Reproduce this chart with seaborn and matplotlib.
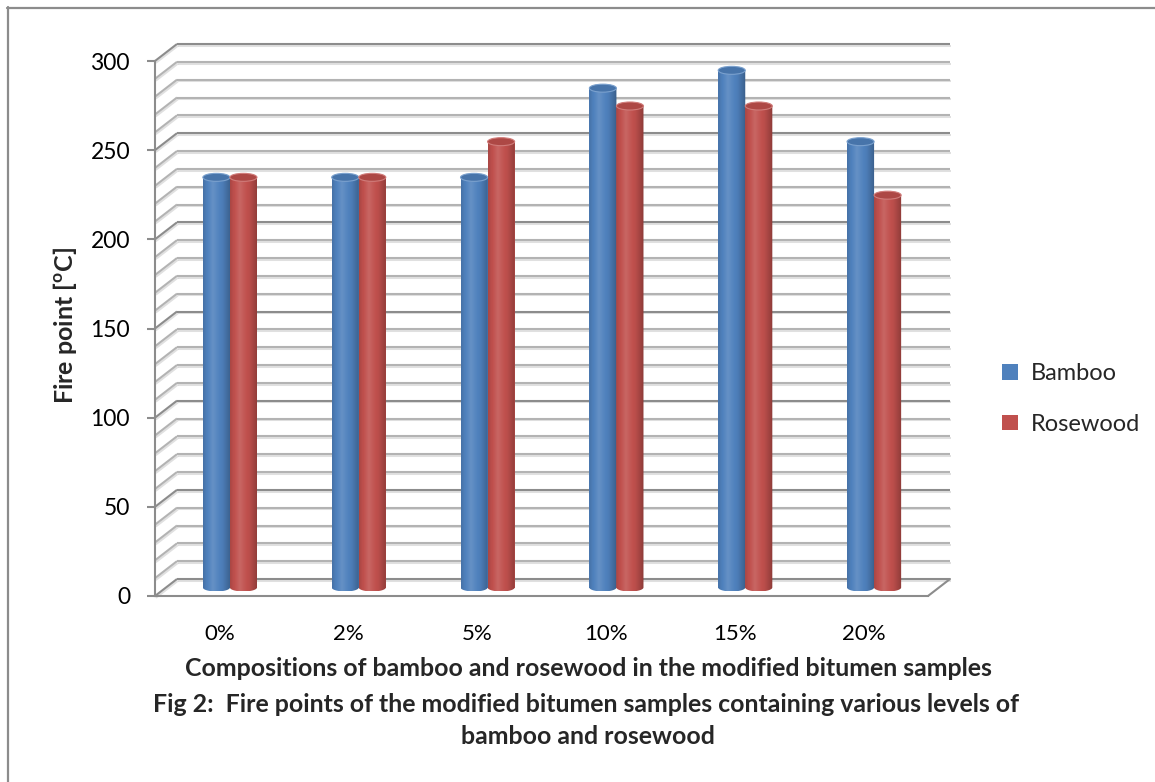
import numpy as np
import pandas as pd
import matplotlib
matplotlib.use("Agg")
import matplotlib.pyplot as plt
import matplotlib.transforms as mtrans
import matplotlib.patheffects as pe
from matplotlib.patches import Ellipse, Patch, Polygon
from matplotlib.lines import Line2D
import seaborn as sns

# ---- data ---------------------------------------------------------------
compositions = ["0%", "2%", "5%", "10%", "15%", "20%"]
bamboo = [230, 230, 230, 280, 290, 250]
rosewood = [230, 230, 250, 270, 270, 220]
series_names = ["Bamboo", "Rosewood"]
series_colors = ["#4F81BD", "#C0504D"]
y_ticks = [0, 50, 100, 150, 200, 250, 300]

df = pd.DataFrame({
    "composition": compositions * 2,
    "fire_point": bamboo + rosewood,
    "sample": [series_names[0]] * len(compositions) + [series_names[1]] * len(compositions),
})

sns.set_theme(style="white")
plt.rcParams["font.family"] = ["Lato", "DejaVu Sans"]
plt.rcParams["mathtext.fontset"] = "custom"
plt.rcParams["mathtext.rm"] = "Lato:bold"
plt.rcParams["mathtext.bf"] = "Lato:bold"

W, H = 1155, 782
fig = plt.figure(figsize=(W / 100, H / 100), dpi=100)
fig.patch.set_facecolor("white")

# front plane of the 3-D box (pixels from top-left)
FL, FR, FB, FT = 155, 928, 596, 61
ax = fig.add_axes([FL / W, 1 - FB / H, (FR - FL) / W, (FB - FT) / H])
ax.set_facecolor("none")

sns.barplot(data=df, x="composition", y="fire_point", hue="sample", order=compositions,
            hue_order=series_names, palette=series_colors, width=0.42, gap=0,
            saturation=1, linewidth=0, legend=False, ax=ax, zorder=3)

ax.set_xlim(-0.5, 5.5)
ax.set_ylim(0, 300)

# depth offsets (pixels) for the back wall and the bar row
BACK_DX, BACK_DY = 22, 17
MID_DX, MID_DY = 10.5, 8.5
px_x = (FR - FL) / 6.0          # pixels per category
px_y = (FB - FT) / 300.0        # pixels per degree
bdx, bdy = BACK_DX / px_x, BACK_DY / px_y
mid = ax.transData + mtrans.ScaledTranslation(MID_DX / 100, MID_DY / 100, fig.dpi_scale_trans)

GRID = "#b3b3b3"
GRID_MAJOR = "#8c8c8c"
shadow = [pe.SimpleLineShadow(offset=(0.6, -1.3), shadow_color="black", alpha=0.12), pe.Normal()]

# back wall and left wall grid
for v in range(0, 301, 10):
    col = GRID_MAJOR if v % 50 == 0 else GRID
    ax.plot([-0.5 + bdx, 5.5 + bdx], [v + bdy, v + bdy], color=col, lw=1.5,
            clip_on=False, zorder=1, path_effects=shadow, solid_capstyle="butt")
    ax.plot([-0.5, -0.5 + bdx], [v, v + bdy], color=col, lw=1.5,
            clip_on=False, zorder=1, path_effects=shadow, solid_capstyle="butt")

# floor: right edge
ax.plot([5.5, 5.5 + bdx], [0, bdy], color=GRID_MAJOR, lw=1.5, clip_on=False, zorder=1)

# cylinder shading on each bar
EH = 8 / px_y   # ellipse height in data units
bars = list(ax.patches)
for bar in bars:
    x0, w, h = bar.get_x(), bar.get_width(), bar.get_height()
    xc = x0 + w / 2
    base = np.array(bar.get_facecolor()[:3])
    bar.set_transform(mid)

    t = np.linspace(0, 1, 64)
    fac = np.interp(t, [0, 0.12, 0.35, 0.7, 0.92, 1], [0.88, 0.98, 1.08, 0.97, 0.8, 0.72])
    rgb = np.where(fac[:, None] > 1, base + (1 - base) * (fac[:, None] - 1) * 1.6,
                   base * fac[:, None])
    grad = np.clip(rgb, 0, 1)[None, :, :]

    theta = np.linspace(np.pi, 2 * np.pi, 40)
    outline = np.column_stack([xc + w / 2 * np.cos(theta), EH / 2 * np.sin(theta)])
    outline = np.vstack([outline, [[x0 + w, h], [x0, h]]])
    clip = Polygon(outline, closed=True, transform=mid, facecolor="none", edgecolor="none")
    ax.add_patch(clip)
    im = ax.imshow(grad, extent=(x0, x0 + w, -EH / 2, h), aspect="auto",
                   interpolation="bilinear", zorder=3.5, transform=mid)
    im.set_clip_path(clip)

    cap_col = np.clip(base * 0.9, 0, 1)
    rim = np.clip(base + (1 - base) * 0.25, 0, 1)
    ax.add_patch(Ellipse((xc, h), w, EH, transform=mid, facecolor=cap_col,
                         edgecolor=rim, lw=0.8, zorder=4))

ax.set_xlim(-0.5, 5.5)
ax.set_ylim(0, 300)

# axes styling
for side in ("top", "right"):
    ax.spines[side].set_visible(False)
for side in ("left", "bottom"):
    ax.spines[side].set_color(GRID_MAJOR)
    ax.spines[side].set_linewidth(1.5)
    ax.spines[side].set_zorder(2)
ax.set_yticks(y_ticks)
ax.tick_params(axis="y", length=6, width=1.5, color=GRID_MAJOR, pad=12,
               labelsize=16.5, labelcolor="black", left=True)
ax.tick_params(axis="x", length=0, pad=20, labelsize=16, labelcolor="black")
ax.set_xlabel("")
ax.set_ylabel("")
ax.grid(False)

fig.text(65 / W, 1 - 326 / H, r"Fire point [$^{\mathrm{o}}$C]", rotation=90,
         ha="center", va="center", fontsize=18, fontweight="bold")

handles = [Patch(facecolor=c, edgecolor="none") for c in series_colors]
fig.legend(handles, series_names, loc="center left", bbox_to_anchor=(981 / W, 1 - 399 / H),
           frameon=False, fontsize=17, handlelength=0.65, handleheight=0.65,
           handletextpad=0.55, labelspacing=1.25)

title_kw = dict(ha="center", va="center", fontsize=17.9, fontweight="bold")
fig.text(588 / W, 1 - 668 / H,
         "Compositions of bamboo and rosewood in the modified bitumen samples", **title_kw)
fig.text(586 / W, 1 - 705 / H,
         "Fig 2:  Fire points of the modified bitumen samples containing various levels of",
         **title_kw)
fig.text(588 / W, 1 - 737 / H, "bamboo and rosewood", **title_kw)

# page frame
fig.add_artist(Line2D([7 / W, 1], [1 - 7.5 / H, 1 - 7.5 / H], transform=fig.transFigure,
                      color="#8c8c8c", lw=1.6))
fig.add_artist(Line2D([7.5 / W, 7.5 / W], [0, 1 - 7 / H], transform=fig.transFigure,
                      color="#8c8c8c", lw=1.6))

fig.savefig("out.png", dpi=100, facecolor="white")
